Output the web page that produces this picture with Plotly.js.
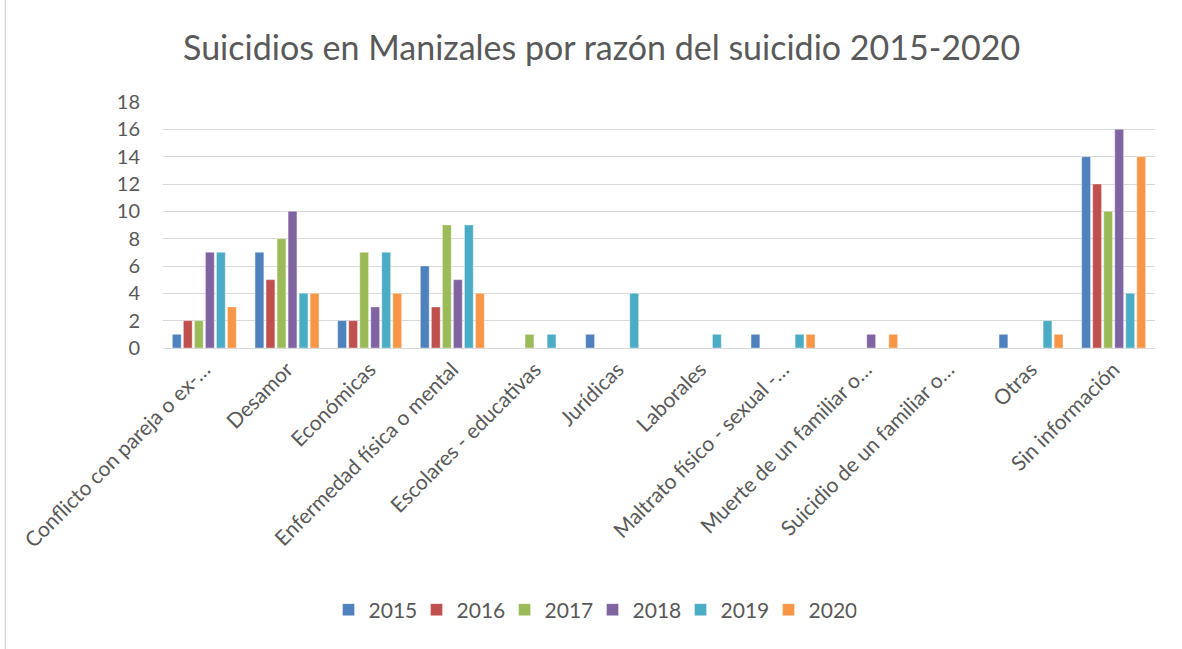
<!DOCTYPE html>
<html><head><meta charset="utf-8">
<script src="https://cdn.plot.ly/plotly-3.0.1.min.js"></script>
<style>html,body{margin:0;padding:0;background:#fff}#chart{width:1182px;height:649px}</style>
</head><body><div id="chart"></div>
<script>
const categories = ["Conflicto con pareja o ex-…","Desamor","Económicas","Enfermedad física o mental","Escolares - educativas","Jurídicas","Laborales","Maltrato físico - sexual -…","Muerte de un familiar o…","Suicidio de un familiar o…","Otras","Sin información"];
const years = ["2015","2016","2017","2018","2019","2020"];
const v2015 = [1,7,2,6,0,1,0,1,0,0,1,14];
const v2016 = [2,5,2,3,0,0,0,0,0,0,0,12];
const v2017 = [2,8,7,9,1,0,0,0,0,0,0,10];
const v2018 = [7,10,3,5,0,0,0,0,1,0,0,16];
const v2019 = [7,4,7,9,1,4,1,1,0,0,2,4];
const v2020 = [3,4,4,4,0,0,0,1,1,0,1,14];
const series = [v2015,v2016,v2017,v2018,v2019,v2020];
const colors = ["#4F81BD","#C0504D","#9BBB59","#8064A2","#4BACC6","#F79646"];
const font = "Lato, 'Open Sans', sans-serif";
const traces = series.map((s,i)=>({
  type:'bar', name:years[i], x:categories, y:s,
  marker:{color:colors[i], line:{color:'rgba(255,255,255,0.6)', width:0.6}}
}));
const layout = {
  width:1182, height:649,
  margin:{l:163, r:27, t:102, b:301},
  paper_bgcolor:'#fff', plot_bgcolor:'#fff',
  font:{family:font, color:'#595959'},
  title:{text:'Suicidios en Manizales por razón del suicidio 2015-2020', x:0.509, xanchor:'center', y:0.926, yanchor:'middle', font:{size:34, color:'#595959', family:font}},
  barmode:'group', bargap:0.2, bargroupgap:0.2,
  xaxis:{type:'category', tickangle:-45, tickfont:{size:21, color:'#595959'}, showline:true, linecolor:'#D9D9D9', ticks:'', showgrid:false},
  yaxis:{range:[0,18], dtick:2, tickfont:{size:20, color:'#595959'}, gridcolor:'#D9D9D9', gridwidth:1.3, zeroline:false, showline:false, ticklabelstandoff:22},
  legend:{orientation:'h', x:0.433, xanchor:'center', y:-1.065, yanchor:'middle', font:{size:21, color:'#595959'}, itemwidth:30, entrywidth:43, entrywidthmode:'pixels', traceorder:'normal'},
  shapes:[{type:'line', xref:'paper', yref:'paper', x0:-0.159, x1:-0.159, y0:-1.3, y1:1.5, line:{color:'#D9D9D9', width:1.5}}]
};
Plotly.newPlot('chart', traces, layout, {displayModeBar:false});
</script></body></html>
